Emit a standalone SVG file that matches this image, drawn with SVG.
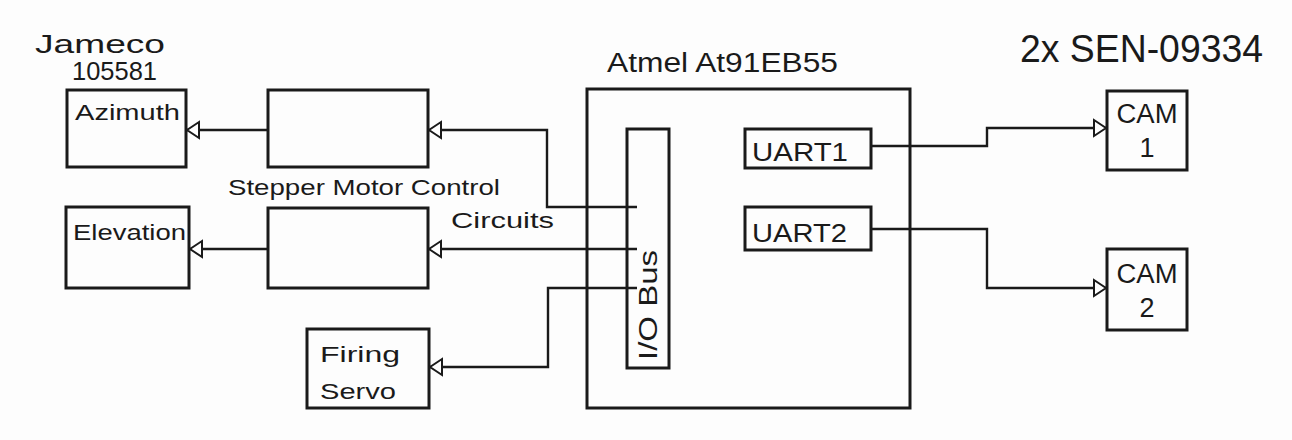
<svg xmlns="http://www.w3.org/2000/svg" width="1292" height="440" viewBox="0 0 1292 440">
<style>
.box{fill:none;stroke:#1a1a1a;stroke-width:3}
.wire{fill:none;stroke:#1a1a1a;stroke-width:2.4}
.t{font-family:"Liberation Sans",Arial,sans-serif;fill:#1a1a1a}
</style>
<defs>
<marker id="arr" markerUnits="userSpaceOnUse" markerWidth="14" markerHeight="20" viewBox="0 0 14 20" refX="13" refY="10" orient="auto">
<path d="M1,2 L13,10 L1,18 Z" fill="#fff" stroke="#1a1a1a" stroke-width="2"/>
</marker>
</defs>
<rect width="1292" height="440" fill="#fdfdfd"/>
<g id="labels">
<text class="t" x="35" y="53" font-size="26" textLength="130" lengthAdjust="spacingAndGlyphs">Jameco</text>
<text class="t" x="72" y="80" font-size="25" textLength="85" lengthAdjust="spacingAndGlyphs">105581</text>
<text class="t" x="228" y="195" font-size="22" textLength="272" lengthAdjust="spacingAndGlyphs">Stepper Motor Control</text>
<text class="t" x="451" y="228" font-size="22" textLength="103" lengthAdjust="spacingAndGlyphs">Circuits</text>
<text class="t" x="607" y="72" font-size="27" textLength="231" lengthAdjust="spacingAndGlyphs">Atmel At91EB55</text>
<text class="t" x="1020" y="62" font-size="38" textLength="243" lengthAdjust="spacingAndGlyphs">2x SEN-09334</text>
</g>
<g id="azimuth">
<rect class="box" x="67" y="90" width="119" height="77"/>
<text class="t" x="75" y="120" font-size="22" textLength="105" lengthAdjust="spacingAndGlyphs">Azimuth</text>
</g>
<g id="stepper1">
<rect class="box" x="268" y="90" width="160" height="77"/>
</g>
<g id="elevation">
<rect class="box" x="66" y="207" width="123" height="81"/>
<text class="t" x="73" y="240" font-size="22" textLength="113" lengthAdjust="spacingAndGlyphs">Elevation</text>
</g>
<g id="stepper2">
<rect class="box" x="268" y="208" width="160" height="80"/>
</g>
<g id="firing">
<rect class="box" x="307" y="329" width="122" height="79"/>
<text class="t" x="320" y="362" font-size="22" textLength="80" lengthAdjust="spacingAndGlyphs">Firing</text>
<text class="t" x="320" y="399" font-size="22" textLength="76" lengthAdjust="spacingAndGlyphs">Servo</text>
</g>
<g id="atmel">
<rect class="box" x="587" y="89" width="323" height="319"/>
</g>
<g id="iobus">
<rect class="box" x="627" y="129" width="42" height="239"/>
<text class="t" transform="translate(657,360) rotate(-90)" x="0" y="0" font-size="26" textLength="110" lengthAdjust="spacingAndGlyphs">I/O Bus</text>
</g>
<g id="uart1">
<rect class="box" x="745" y="129" width="126" height="39"/>
<text class="t" x="752" y="161" font-size="26" textLength="96" lengthAdjust="spacingAndGlyphs">UART1</text>
</g>
<g id="uart2">
<rect class="box" x="745" y="207" width="126" height="43"/>
<text class="t" x="752" y="242" font-size="26" textLength="95" lengthAdjust="spacingAndGlyphs">UART2</text>
</g>
<g id="cam1">
<rect class="box" x="1107" y="91" width="80" height="79"/>
<text class="t" x="1147" y="123" font-size="27" text-anchor="middle" textLength="61" lengthAdjust="spacingAndGlyphs">CAM</text>
<text class="t" x="1147" y="157" font-size="27" text-anchor="middle">1</text>
</g>
<g id="cam2">
<rect class="box" x="1107" y="249" width="80" height="81"/>
<text class="t" x="1147" y="283" font-size="27" text-anchor="middle" textLength="61" lengthAdjust="spacingAndGlyphs">CAM</text>
<text class="t" x="1147" y="317" font-size="27" text-anchor="middle">2</text>
</g>
<g id="connectors">
<path class="wire" d="M268,130 H187" marker-end="url(#arr)"/>
<path class="wire" d="M637,207 H547 V130 H429" marker-end="url(#arr)"/>
<path class="wire" d="M268,249 H190" marker-end="url(#arr)"/>
<path class="wire" d="M637,249 H429" marker-end="url(#arr)"/>
<path class="wire" d="M637,288 H548 V367 H430" marker-end="url(#arr)"/>
<path class="wire" d="M871,146 H987 V128 H1106" marker-end="url(#arr)"/>
<path class="wire" d="M871,229 H987 V288 H1106" marker-end="url(#arr)"/>
</g>
</svg>
